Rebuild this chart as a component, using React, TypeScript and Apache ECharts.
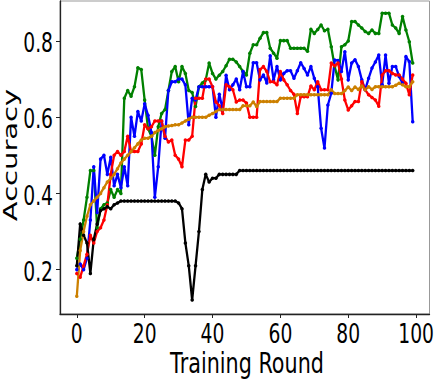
import React, { useEffect, useRef } from "react";
import * as echarts from "echarts";

const xTicks = [0, 20, 40, 60, 80, 100];
const yTicks = [0.2, 0.4, 0.6, 0.8];
const xTickLabels = ["0", "20", "40", "60", "80", "100"];
const yTickLabels = ["0.2", "0.4", "0.6", "0.8"];

const greenAcc = [
  0.23, 0.28, 0.33, 0.39, 0.46, 0.46, 0.31, 0.36, 0.37, 0.375,
  0.41, 0.39, 0.41, 0.40, 0.65, 0.67, 0.655, 0.68, 0.73, 0.725,
  0.645, 0.57, 0.55, 0.50, 0.575, 0.61, 0.62, 0.67, 0.72, 0.733,
  0.693, 0.733, 0.715, 0.67, 0.665, 0.628, 0.68, 0.69, 0.698, 0.742,
  0.715, 0.70, 0.71, 0.72, 0.735, 0.752, 0.752, 0.745, 0.733, 0.72,
  0.711, 0.768, 0.79, 0.79, 0.807, 0.822, 0.822, 0.781, 0.768, 0.755,
  0.801, 0.801, 0.801, 0.781, 0.781, 0.781, 0.781, 0.781, 0.773, 0.831,
  0.82, 0.83, 0.842, 0.827, 0.831, 0.785, 0.733, 0.698, 0.785, 0.79,
  0.80, 0.851, 0.851, 0.842, 0.834, 0.825, 0.82, 0.829, 0.82, 0.82,
  0.873, 0.873, 0.873, 0.842, 0.834, 0.82, 0.864, 0.829, 0.798, 0.742,
];

const blueAcc = [
  0.20, 0.215, 0.20, 0.23, 0.33, 0.47, 0.35, 0.49, 0.50, 0.45,
  0.495, 0.42, 0.45, 0.415, 0.47, 0.42, 0.60, 0.55, 0.615, 0.59,
  0.635, 0.605, 0.56, 0.39, 0.47, 0.59, 0.545, 0.67, 0.693, 0.693,
  0.70, 0.70, 0.685, 0.58, 0.65, 0.645, 0.68, 0.68, 0.68, 0.68,
  0.68, 0.60, 0.66, 0.62, 0.71, 0.672, 0.685, 0.70, 0.672, 0.72,
  0.68, 0.68, 0.743, 0.743, 0.698, 0.711, 0.69, 0.761, 0.698, 0.733,
  0.698, 0.715, 0.722, 0.722, 0.702, 0.722, 0.743, 0.728, 0.711, 0.733,
  0.702, 0.68, 0.571, 0.519, 0.632, 0.663, 0.75, 0.749, 0.72, 0.772,
  0.698, 0.742, 0.751, 0.733, 0.698, 0.672, 0.702, 0.729, 0.745, 0.763,
  0.685, 0.763, 0.689, 0.733, 0.733, 0.707, 0.689, 0.759, 0.746, 0.588,
];

const redAcc = [
  0.19, 0.18, 0.21, 0.24, 0.29, 0.27, 0.30, 0.31, 0.33, 0.37,
  0.45, 0.50, 0.51, 0.50, 0.51, 0.55, 0.51, 0.51, 0.51, 0.53,
  0.58, 0.57, 0.575, 0.59, 0.59, 0.59, 0.55, 0.535, 0.54, 0.50,
  0.49, 0.47, 0.54, 0.54, 0.55, 0.65, 0.65, 0.65, 0.70, 0.70,
  0.68, 0.64, 0.63, 0.61, 0.685, 0.68, 0.672, 0.64, 0.645, 0.645,
  0.637, 0.60, 0.60, 0.60, 0.725, 0.733, 0.72, 0.693, 0.693, 0.685,
  0.72, 0.698, 0.685, 0.67, 0.66, 0.61, 0.654, 0.654, 0.654, 0.682,
  0.672, 0.693, 0.672, 0.672, 0.672, 0.742, 0.735, 0.742, 0.70, 0.645,
  0.619, 0.63, 0.641, 0.641, 0.693, 0.672, 0.659, 0.652, 0.645, 0.629,
  0.711, 0.722, 0.722, 0.715, 0.711, 0.711, 0.70, 0.689, 0.659, 0.711,
];

const orangeAcc = [
  0.13, 0.25, 0.30, 0.34, 0.37, 0.38, 0.39, 0.40, 0.415, 0.43,
  0.44, 0.45, 0.465, 0.48, 0.49, 0.50, 0.51, 0.52, 0.53, 0.54,
  0.545, 0.545, 0.55, 0.56, 0.565, 0.57, 0.575, 0.577, 0.578, 0.58,
  0.58, 0.585, 0.59, 0.595, 0.60, 0.60, 0.60, 0.60, 0.60, 0.605,
  0.61, 0.615, 0.62, 0.62, 0.62, 0.62, 0.62, 0.62, 0.62, 0.63,
  0.63, 0.63, 0.64, 0.628, 0.641, 0.641, 0.641, 0.641, 0.641, 0.641,
  0.65, 0.65, 0.65, 0.65, 0.65, 0.659, 0.659, 0.659, 0.659, 0.659,
  0.659, 0.659, 0.659, 0.659, 0.659, 0.672, 0.662, 0.662, 0.662, 0.67,
  0.679, 0.67, 0.679, 0.673, 0.682, 0.672, 0.68, 0.673, 0.68, 0.68,
  0.68, 0.68, 0.68, 0.68, 0.684, 0.689, 0.685, 0.68, 0.68, 0.693,
];

const blackAcc = [
  0.21, 0.32, 0.29, 0.27, 0.19, 0.28, 0.32, 0.355, 0.36, 0.365,
  0.36, 0.37, 0.375, 0.38, 0.38, 0.38, 0.38, 0.38, 0.38, 0.38,
  0.38, 0.38, 0.38, 0.38, 0.38, 0.38, 0.38, 0.38, 0.38, 0.38,
  0.375, 0.36, 0.27, 0.21, 0.12, 0.21, 0.30, 0.41, 0.45, 0.43,
  0.44, 0.44, 0.45, 0.45, 0.45, 0.45, 0.45, 0.45, 0.46, 0.46,
  0.46, 0.46, 0.46, 0.46, 0.46, 0.46, 0.46, 0.46, 0.46, 0.46,
  0.46, 0.46, 0.46, 0.46, 0.46, 0.46, 0.46, 0.46, 0.46, 0.46,
  0.46, 0.46, 0.46, 0.46, 0.46, 0.46, 0.46, 0.46, 0.46, 0.46,
  0.46, 0.46, 0.46, 0.46, 0.46, 0.46, 0.46, 0.46, 0.46, 0.46,
  0.46, 0.46, 0.46, 0.46, 0.46, 0.46, 0.46, 0.46, 0.46, 0.46,
];

const seriesDefs = [
  { name: "green", color: "#008000", values: greenAcc },
  { name: "blue", color: "#0000ff", values: blueAcc },
  { name: "red", color: "#ff0000", values: redAcc },
  { name: "black", color: "#000000", values: blackAcc },
  { name: "orange", color: "#cc8000", values: orangeAcc },
];

const X_MIN = -4.95;
const X_MAX = 103.95;
const Y_MIN = 0.0835;
const Y_MAX = 0.905;
const TICK_FONT = '26px "DejaVu Sans"';
const TICK_SCALE = 0.72;

export default function App() {
  const ref = useRef<HTMLDivElement>(null);
  useEffect(() => {
    if (!ref.current) return;
    const chart = echarts.init(ref.current, undefined, { renderer: "svg" });
    chart.setOption({
      animation: false,
      backgroundColor: "#ffffff",
      grid: {
        left: 60,
        right: 6.5,
        top: 1,
        bottom: 67,
        containLabel: false,
        outerBoundsMode: "none",
        show: true,
        borderColor: "#999999",
        borderWidth: 1,
        backgroundColor: "transparent",
      },
      xAxis: {
        type: "value",
        min: X_MIN,
        max: X_MAX,
        splitLine: { show: false },
        axisLine: { show: true, onZero: false, lineStyle: { color: "#222", width: 1.3 } },
        axisTick: { show: true, customValues: xTicks, length: 4, lineStyle: { color: "#222" } },
        axisLabel: { show: false },
      },
      yAxis: {
        type: "value",
        min: Y_MIN,
        max: Y_MAX,
        splitLine: { show: false },
        axisLine: { show: true, onZero: false, lineStyle: { color: "#222", width: 1.3 } },
        axisTick: { show: true, customValues: yTicks, length: 4, lineStyle: { color: "#222" } },
        axisLabel: { show: false },
      },
      series: seriesDefs.map((s) => ({
        name: s.name,
        type: "line",
        data: s.values.map((v, i) => [i, v]),
        symbol: "circle",
        symbolSize: 3.5,
        showSymbol: true,
        lineStyle: { color: s.color, width: 2.3 },
        itemStyle: { color: s.color },
        emphasis: { disabled: true },
      })),
    });

    const toPx = (x: number, y: number) =>
      chart.convertToPixel({ xAxisIndex: 0, yAxisIndex: 0 }, [x, y]) as number[];

    const [axisLeft, axisBottom] = toPx(X_MIN, Y_MIN);

    const xLabelEls = xTicks.map((t, i) => {
      const [px] = toPx(t, Y_MIN);
      return {
        type: "text",
        id: "xt" + i,
        x: px,
        y: axisBottom + 20,
        scaleX: TICK_SCALE,
        style: {
          text: xTickLabels[i],
          font: TICK_FONT,
          fill: "#000",
          textAlign: "center",
          textVerticalAlign: "middle",
        },
      };
    });
    const yLabelEls = yTicks.map((t, i) => {
      const [, py] = toPx(X_MIN, t);
      return {
        type: "text",
        id: "yt" + i,
        x: axisLeft - 7,
        y: py + 2,
        scaleX: TICK_SCALE,
        style: {
          text: yTickLabels[i],
          font: TICK_FONT,
          fill: "#000",
          textAlign: "right",
          textVerticalAlign: "middle",
        },
      };
    });

    chart.setOption({
      graphic: [
        ...xLabelEls,
        ...yLabelEls,
        {
          type: "text",
          id: "xname",
          x: 247,
          y: 363,
          scaleX: 0.74,
          style: {
            text: "Training Round",
            font: '28px "DejaVu Sans"',
            fill: "#000",
            textAlign: "center",
            textVerticalAlign: "middle",
          },
        },
        {
          type: "text",
          id: "yname",
          x: 10,
          y: 155,
          rotation: Math.PI / 2,
          scaleY: 0.66,
          style: {
            text: "Accuracy",
            font: '29px "DejaVu Sans"',
            fill: "#000",
            textAlign: "center",
            textVerticalAlign: "middle",
          },
        },
      ],
    });
    return () => chart.dispose();
  }, []);
  return <div ref={ref} style={{ width: 436, height: 381, position: "absolute", left: 0, top: 0 }} />;
}
